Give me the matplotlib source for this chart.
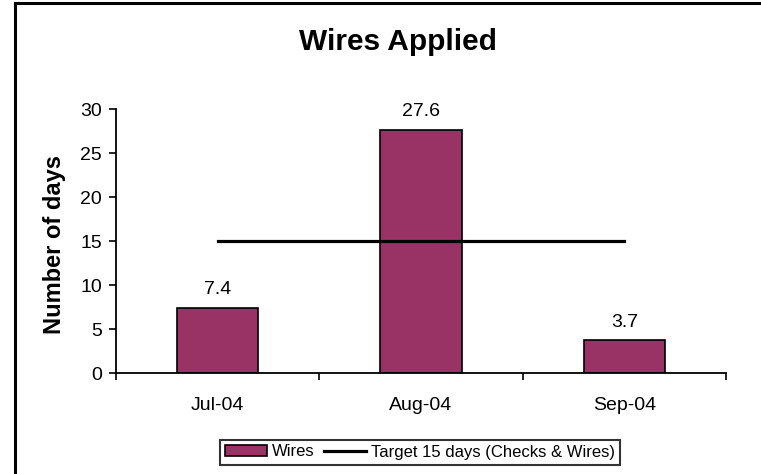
import matplotlib.pyplot as plt
from matplotlib.lines import Line2D
from matplotlib.patches import Patch
import numpy as np

plt.rcParams['font.family'] = ['Liberation Sans', 'DejaVu Sans']

months = ["Jul-04", "Aug-04", "Sep-04"]
wires = [7.4, 27.6, 3.7]
target = [15, 15, 15]

bar_color = "#993366"

fig = plt.figure(figsize=(7.61, 4.74), dpi=100)
ax = fig.add_axes([116/761, 1 - 373/474, (726 - 116)/761, (373 - 109)/474])

x = np.arange(len(months))
ax.bar(x, wires, width=0.4, color=bar_color, edgecolor="black", linewidth=1.2, zorder=2)
ax.plot(x, target, color="black", linewidth=2.3, zorder=3)

for xi, v in zip(x, wires):
    ax.text(xi, v + 1.1, f"{v:.1f}", ha="center", va="bottom", fontsize=14)

ax.set_xlim(-0.5, 2.5)
ax.set_ylim(0, 30)
ax.set_yticks(range(0, 31, 5))
ax.set_xticks(x)
ax.set_xticklabels(months)
ax.set_xticks([-0.5, 0.5, 1.5, 2.5], minor=True)
ax.tick_params(axis="x", which="major", length=0, pad=17, labelsize=14)
ax.tick_params(axis="x", which="minor", length=5, width=1.2, direction="out")
ax.tick_params(axis="y", length=5, width=1.2, direction="out", labelsize=14, pad=5)
for s in ["top", "right"]:
    ax.spines[s].set_visible(False)
for s in ["left", "bottom"]:
    ax.spines[s].set_linewidth(1.3)

fig.text(55/761, 1 - 244/474, "Number of days", rotation=90, ha="center", va="center",
         fontsize=17, fontweight="bold")
fig.text(398/761, 1 - 50/474, "Wires Applied", ha="center", va="baseline",
         fontsize=21.5, fontweight="bold")

handles = [Patch(facecolor=bar_color, edgecolor="black", linewidth=1.2),
           Line2D([0], [0], color="black", linewidth=2.3)]
leg = fig.legend(handles, ["Wires", "Target 15 days (Checks & Wires)"],
                 loc="center", bbox_to_anchor=(420/761, 1 - 452/474), ncol=2,
                 fontsize=12, frameon=True, fancybox=False, handlelength=2.5,
                 handleheight=0.6, handletextpad=0.3, columnspacing=0.6, borderpad=0.3)
leg.get_frame().set_edgecolor("black")
leg.get_frame().set_linewidth(1.5)

# outer chart border (left and top visible)
fig.add_artist(Line2D([15/761, 15/761], [0, 1 - 3/474], color="black", lw=2.2,
                      transform=fig.transFigure))
fig.add_artist(Line2D([15/761, 1], [1 - 3/474, 1 - 3/474], color="black", lw=2.2,
                      transform=fig.transFigure))

fig.savefig("out.png", dpi=100)
